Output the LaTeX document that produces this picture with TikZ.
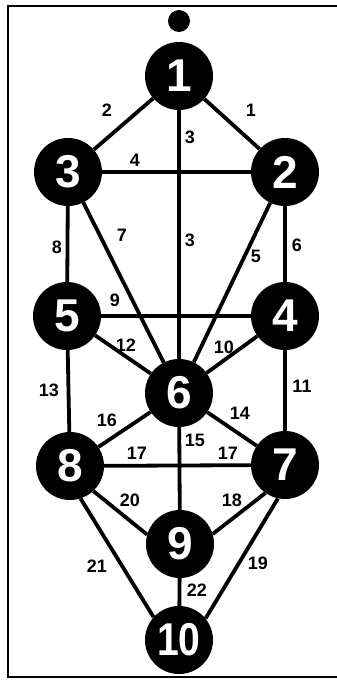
\documentclass[tikz,border=0pt]{standalone}
\usepackage{fontspec}
\setmainfont{Liberation Sans}
\begin{document}
\begin{tikzpicture}[x=1pt,y=-1pt,
  sef/.style={circle,fill=black,minimum size=68pt,inner sep=0pt,text=white,font=\fontsize{46}{46}\selectfont\bfseries},
  path/.style={line width=3.8pt,black},
  lbl/.style={font=\fontsize{18}{18}\selectfont\bfseries,inner sep=0pt}]
\useasboundingbox (0,0) rectangle (337,681);
\draw[line width=2pt] (337,6) -- (8,6) -- (8,677) -- (337,677);
\node[circle,fill=black,minimum size=22pt,inner sep=0pt] (dot) at (179,21) {};
\node[sef] (n1) at (179,76) {1};
\node[sef] (n3) at (68,172) {3};
\node[sef] (n2) at (285,172) {2};
\node[sef] (n5) at (67,316) {5};
\node[sef] (n4) at (285,316) {4};
\node[sef] (n6) at (179,393) {6};
\node[sef] (n8) at (70,466) {8};
\node[sef] (n7) at (285,465) {7};
\node[sef] (n9) at (180,544) {9};
\node[sef] (n10) at (179,640) {\scalebox{0.85}[1]{10}};
\draw[path] (n1) -- (n3);
\draw[path] (n1) -- (n2);
\draw[path] (n1) -- (n6);
\draw[path] (n3) -- (n2);
\draw[path] (n3) -- (n5);
\draw[path] (n3) -- (n6);
\draw[path] (n2) -- (n6);
\draw[path] (n2) -- (n4);
\draw[path] (n5) -- (n4);
\draw[path] (n5) -- (n6);
\draw[path] (n4) -- (n6);
\draw[path] (n5) -- (n8);
\draw[path] (n4) -- (n7);
\draw[path] (n6) -- (n8);
\draw[path] (n6) -- (n7);
\draw[path] (n8) -- (n7);
\draw[path] (n6) -- (n9);
\draw[path] (n8.-47) -- (n9.164);
\draw[path] (n7.-125) -- (n9.17);
\draw[path] (n8.-72) -- (n10.138);
\draw[path] (n7.-102) -- (n10.39);
\draw[path] (n9) -- (n10);
\node[lbl] (l2) at (107,110) {2};
\node[lbl] (l1) at (251,110) {1};
\node[lbl] (l3a) at (190,137) {3};
\node[lbl] (l4) at (135,160) {4};
\node[lbl] (l7) at (122,235) {7};
\node[lbl] (l3b) at (190,240) {3};
\node[lbl] (l5) at (256,256) {5};
\node[lbl] (l6) at (297,245) {6};
\node[lbl] (l8) at (57,247) {8};
\node[lbl] (l9) at (115,300) {9};
\node[lbl] (l12) at (126,345) {12};
\node[lbl] (l10) at (224,347) {10};
\node[lbl] (l13) at (49,390) {13};
\node[lbl] (l11) at (302,386) {11};
\node[lbl] (l16) at (107,420) {16};
\node[lbl] (l14) at (240,413) {14};
\node[lbl] (l15) at (195,440) {15};
\node[lbl] (l17a) at (137,453) {17};
\node[lbl] (l17b) at (228,453) {17};
\node[lbl] (l20) at (130,500) {20};
\node[lbl] (l18) at (232,500) {18};
\node[lbl] (l21) at (97,566) {21};
\node[lbl] (l19) at (258,563) {19};
\node[lbl] (l22) at (197,590) {22};
\end{tikzpicture}
\end{document}
